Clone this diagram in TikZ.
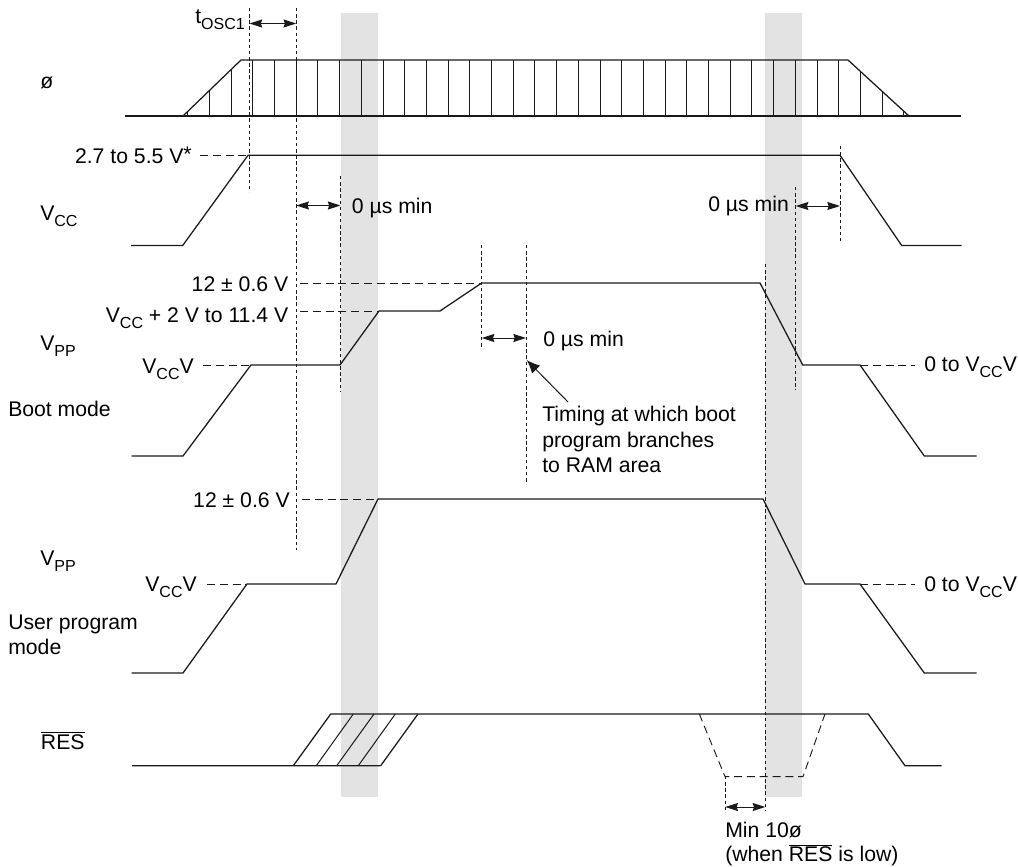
\documentclass[tikz,border=0pt]{standalone}
\usepackage{fontspec}
\setmainfont{Liberation Sans}
\usetikzlibrary{arrows.meta}
\definecolor{band}{HTML}{E3E3E3}
\definecolor{ink}{HTML}{1A1A1A}
\newcommand{\sbt}[1]{\raisebox{-4.5pt}{\fontsize{12}{13}\selectfont #1}}
\tikzset{
  trace/.style={draw=ink,line width=0.95pt,line join=miter},
  thin trace/.style={draw=ink,line width=0.75pt},
  level/.style={draw=ink,line width=0.7pt,dash pattern=on 6pt off 3.6pt},
  guide/.style={draw=ink,line width=0.7pt,dash pattern=on 2.6pt off 2pt},
  span/.style={draw=ink,line width=0.7pt,{Stealth[length=9.5pt,width=6pt,inset=1pt]}-{Stealth[length=9.5pt,width=6pt,inset=1pt]}},
  lab/.style={inner sep=0pt,anchor=base west,font=\fontsize{15.9}{18}\selectfont},
  labr/.style={inner sep=0pt,anchor=base east,font=\fontsize{15.9}{18}\selectfont},
}
\begin{document}
\begin{tikzpicture}[x=0.75pt,y=-0.75pt]
\useasboundingbox (0,0) rectangle (1018,867);
% grey bands
\fill[band] (341,13) rectangle (378,797);
\fill[band] (765,13) rectangle (802,797);
% clock
\draw[trace] (125,116) -- (961,116);
\draw[trace] (183,116) -- (241,60) -- (848,60) -- (909,116);
\foreach \k in {0,...,33}{
  \pgfmathsetmacro{\xx}{187.7+21.7*\k}
  \pgfmathsetmacro{\yy}{\xx<241 ? 116-(\xx-183)*0.9655 : (\xx>848 ? 60+(\xx-848)*0.918 : 60)}
  \draw[thin trace] (\xx,116) -- (\xx,\yy);
}
% supply
\draw[trace] (131,245.5) -- (182.7,245.5) -- (248,155.3) -- (840,155.3) -- (901.7,245.5) -- (961.7,245.5);
% VPP boot
\draw[trace] (131.7,456) -- (183,456) -- (251,365) -- (340,365) -- (379,311) -- (440,311) -- (481.7,283) -- (760,283) -- (802.7,365) -- (860,365) -- (924.3,456) -- (976.7,456);
% VPP user
\draw[trace] (131.7,673) -- (183,673) -- (247,584) -- (336,584) -- (378,499) -- (763,499) -- (805,584) -- (860,584) -- (924.3,673) -- (976.7,673);
% RES
\draw[trace] (132,765.7) -- (380.7,765.7) (293.3,765.7) -- (330.7,714) -- (868.3,714) -- (905,765.7) -- (941.7,765.7);
\draw[thin trace] (316.3,765.7) -- (353.3,714) (336.7,765.7) -- (374,714) (358.3,765.7) -- (395.3,714);
\draw[trace] (380.7,765.7) -- (418,714);
\draw[level] (699.3,714) -- (725,776.6) -- (803,776.6) -- (825,714);
% level dashes
\draw[level] (200,155.3) -- (248,155.3);
\draw[level] (300,283) -- (481,283);
\draw[level] (300,311) -- (379,311);
\draw[level] (203,365) -- (251,365);
\draw[level] (860,365) -- (915,365);
\draw[level] (302,499) -- (378,499);
\draw[level] (207,584) -- (247,584);
\draw[level] (860,584) -- (915,584);
% guides
\coordinate (g1t) at (249.5,8);   \coordinate (g1b) at (249.5,192);
\coordinate (g2t) at (296.2,8);   \coordinate (g2b) at (296.2,550);
\coordinate (g3t) at (340.5,176); \coordinate (g3b) at (340.5,392);
\coordinate (g4t) at (840,146);   \coordinate (g4b) at (840,243);
\coordinate (g5t) at (795.7,187); \coordinate (g5b) at (795.7,390);
\coordinate (g6t) at (765.3,264); \coordinate (g6b) at (765.3,811);
\coordinate (g7t) at (481.7,245); \coordinate (g7b) at (481.7,348);
\coordinate (g8t) at (526,245);   \coordinate (g8b) at (526,482.7);
\coordinate (g9t) at (725.3,776); \coordinate (g9b) at (725.3,811);
\foreach \g in {1,...,9}{\draw[guide] (g\g t) -- (g\g b);}
% span arrows
\draw[span] (249.5,23.5) -- (296.2,23.5);
\draw[span] (296.2,205.5) -- (340.5,205.5);
\draw[span] (795.7,206) -- (840,206);
\draw[span] (481.7,338) -- (526,338);
\draw[span] (725.3,807) -- (765.3,807);
\draw[draw=ink,line width=0.75pt,-{Latex[length=10pt,width=8.5pt]}] (568,402) -- (526.7,360);
% labels
\node[lab] (tosc) at (195,24) {t\sbt{OSC1}};
\node[lab] (phi) at (40,89) {ø};
\node[lab] (vcc) at (40,220) {V\sbt{CC}};
\node[labr] (v27) at (192,163) {2.7 to 5.5 V\raisebox{1pt}{*}};
\node[lab] (m1) at (351.7,213) {0 µs min};
\node[lab] (m2) at (708,211) {0 µs min};
\node[labr] (v12a) at (288.5,291) {12 ± 0.6 V};
\node[labr] (vcc2) at (288.5,322) {V\sbt{CC} + 2 V to 11.4 V};
\node[lab] (vpp1) at (40,350.7) {V\sbt{PP}};
\node[labr] (vv1) at (194,373) {V\sbt{CC}V};
\node[lab] (m3) at (543,346) {0 µs min};
\node[lab] (boot) at (8,416) {Boot mode};
\node[lab] (t1) at (542,421.7) {Timing at which boot};
\node[lab] (t2) at (542,447) {program branches};
\node[lab] (t3) at (542,472.7) {to RAM area};
\node[lab] (r1) at (924,371.7) {0 to V\sbt{CC}V};
\node[labr] (v12b) at (290,507) {12 ± 0.6 V};
\node[lab] (vpp2) at (40,565) {V\sbt{PP}};
\node[labr] (vv2) at (197,591.7) {V\sbt{CC}V};
\node[lab] (r2) at (924,591.7) {0 to V\sbt{CC}V};
\node[lab] (u1) at (8,629) {User program};
\node[lab] (u2) at (8,654) {mode};
\node[lab] (res) at (40.7,749.3) {$\overline{\mbox{RES}}$};
\node[lab] (mn) at (725,837) {Min 10ø};
\node[lab] (wh) at (725,861.7) {(when $\overline{\mbox{RES}}$ is low)};
\end{tikzpicture}
\end{document}
